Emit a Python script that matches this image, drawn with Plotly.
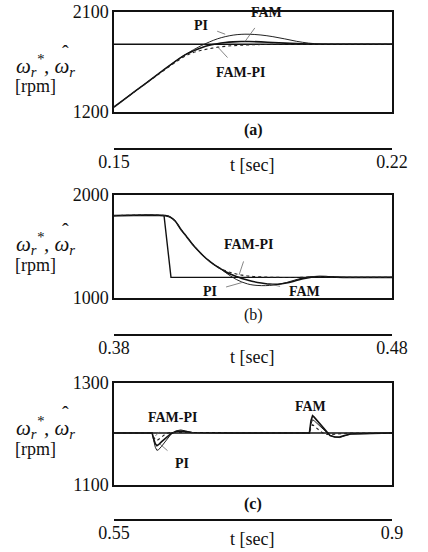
import plotly.graph_objects as go

# ---------------- data ----------------
# (a) speed step response
t_a = [0.150, 0.153, 0.156, 0.159, 0.162, 0.165, 0.168, 0.170, 0.172, 0.174, 0.176,
       0.178, 0.180, 0.182, 0.184, 0.187, 0.190, 0.193, 0.196, 0.199, 0.202, 0.206,
       0.210, 0.215, 0.220]
ref_a_t = [0.150, 0.220]
ref_a = [1810, 1810]
pi_a = [1245, 1325, 1405, 1485, 1565, 1645, 1718, 1760, 1798, 1830, 1858,
        1878, 1892, 1899, 1900, 1893, 1878, 1858, 1836, 1820, 1812, 1810,
        1810, 1810, 1810]
fam_a = [1245, 1325, 1405, 1485, 1565, 1645, 1716, 1750, 1778, 1800, 1815,
         1825, 1831, 1834, 1834, 1831, 1826, 1820, 1815, 1812, 1810, 1810,
         1810, 1810, 1810]
fampi_a = [1245, 1325, 1404, 1482, 1560, 1636, 1705, 1735, 1755, 1770, 1782,
           1791, 1797, 1801, 1804, 1807, 1809, 1810, 1810, 1810, 1810, 1810,
           1810, 1810, 1810]

# (b) speed reversal 1800 -> 1200 rpm
t_b = [0.380, 0.3985, 0.400, 0.402, 0.404, 0.406, 0.408, 0.410, 0.412, 0.414, 0.416,
       0.418, 0.420, 0.422, 0.424, 0.426, 0.428, 0.430, 0.433, 0.436, 0.439, 0.442,
       0.445, 0.448, 0.451, 0.454, 0.457, 0.460, 0.465, 0.470, 0.480]
ref_b_t = [0.380, 0.398, 0.4005, 0.480]
ref_b = [1800, 1800, 1200, 1200]
pi_b = [1800, 1800, 1788, 1748, 1668, 1600, 1530, 1468, 1413, 1365, 1324,
        1290, 1250, 1212, 1180, 1155, 1137, 1126, 1120, 1122, 1132, 1150,
        1174, 1195, 1207, 1211, 1208, 1203, 1200, 1200, 1200]
fam_b = [1800, 1800, 1788, 1748, 1668, 1600, 1530, 1468, 1413, 1365, 1324,
         1290, 1258, 1230, 1208, 1190, 1174, 1160, 1145, 1135, 1134, 1145,
         1165, 1188, 1203, 1209, 1207, 1203, 1200, 1200, 1200]
fampi_b = [1800, 1800, 1788, 1748, 1668, 1600, 1530, 1468, 1413, 1365, 1324,
           1292, 1266, 1247, 1233, 1222, 1214, 1209, 1205, 1202, 1200, 1199,
           1199, 1201, 1205, 1208, 1206, 1202, 1200, 1200, 1200]

# (c) load torque applied and removed
t_c = [0.550, 0.598, 0.600, 0.602, 0.604, 0.606, 0.610, 0.614, 0.618, 0.622, 0.628,
       0.634, 0.640, 0.648, 0.700, 0.750, 0.796, 0.798, 0.800, 0.802, 0.806, 0.810,
       0.814, 0.818, 0.822, 0.828, 0.834, 0.840, 0.848, 0.900]
ref_c_t = [0.550, 0.900]
ref_c = [1202, 1202]
pi_c = [1202, 1202, 1187, 1174, 1168, 1169, 1176, 1184, 1192, 1200, 1206,
        1208, 1206, 1203, 1202, 1202, 1202, 1220, 1228, 1226, 1220, 1214,
        1208, 1202, 1197, 1194, 1193, 1196, 1200, 1202]
fam_c = [1202, 1202, 1190, 1181, 1177, 1179, 1185, 1191, 1196, 1201, 1205,
         1206, 1205, 1203, 1202, 1202, 1202, 1226, 1236, 1233, 1226, 1218,
         1210, 1203, 1197, 1194, 1194, 1197, 1200, 1202]
fampi_c = [1202, 1202, 1194, 1189, 1187, 1189, 1194, 1199, 1202, 1203, 1203,
           1202, 1202, 1202, 1202, 1202, 1202, 1212, 1218, 1216, 1210, 1205,
           1201, 1199, 1199, 1200, 1201, 1202, 1202, 1202]

# axis ranges and tick labels
x_ranges = [[0.15, 0.22], [0.38, 0.48], [0.55, 0.90]]
x_ticktext = [["0.15", "0.22"], ["0.38", "0.48"], ["0.55", "0.9"]]
y_ranges = [[1200, 2100], [1000, 2000], [1100, 1300]]
panel_tags = ["<b>(a)</b>", "(b)", "<b>(c)</b>"]

# ---------------- figure ----------------
W, H = 428, 552
FONT = "Liberation Serif"
BLACK = "#111111"


def px_x(p):
    return p / W


def px_y(p):
    return 1 - p / H


box_left, box_right = 114, 392
panels = [
    dict(top=12, bottom=112, bracket=149, label_y=165, tag_y=130, om_y=66, rpm_y=86),
    dict(top=195, bottom=298, bracket=335, label_y=357, tag_y=315, om_y=244, rpm_y=265),
    dict(top=383, bottom=485, bracket=520, label_y=539, tag_y=504, om_y=427, rpm_y=449),
]

series = [
    (t_a, ref_a_t, ref_a, pi_a, fam_a, fampi_a, "spline"),
    (t_b, ref_b_t, ref_b, pi_b, fam_b, fampi_b, "spline"),
    (t_c, ref_c_t, ref_c, pi_c, fam_c, fampi_c, "linear"),
]

fig = go.Figure()
layout = dict(
    template="none",
    width=W, height=H,
    margin=dict(l=0, r=0, t=0, b=0, pad=0),
    paper_bgcolor="white", plot_bgcolor="white",
    showlegend=False,
    font=dict(family=FONT, size=18, color=BLACK),
)
annotations = []


def text_at(text, x, y, size, **kw):
    return dict(xref="paper", yref="paper", x=px_x(x), y=px_y(y), text=text,
                showarrow=False, xanchor="center", yanchor="middle",
                font=dict(family=FONT, size=size, color=BLACK), **kw)


for i, (p, s) in enumerate(zip(panels, series)):
    t, rt, rv, pi, fam, fampi, shape = s
    xb = f"x{2 * i + 1}" if i else "x"
    xk = f"x{2 * i + 2}"
    yk = f"y{i + 1}" if i else "y"
    xb_name = "xaxis" if i == 0 else f"xaxis{2 * i + 1}"
    xk_name = f"xaxis{2 * i + 2}"
    y_name = "yaxis" if i == 0 else f"yaxis{i + 1}"

    common = dict(xaxis=xb, yaxis=yk, mode="lines", hoverinfo="skip")
    fig.add_trace(go.Scatter(x=rt, y=rv, line=dict(color=BLACK, width=1.4), **common))
    fig.add_trace(go.Scatter(x=t, y=pi, line=dict(color="#222", width=1.0, shape=shape), **common))
    fig.add_trace(go.Scatter(x=t, y=fam, line=dict(color=BLACK, width=1.6, shape=shape), **common))
    fig.add_trace(go.Scatter(x=t, y=fampi, line=dict(color="#222", width=1.1, dash="dot", shape=shape), **common))
    # empty trace so the time bracket axis is drawn
    fig.add_trace(go.Scatter(x=[None], y=[None], xaxis=xk, yaxis=yk, mode="lines", hoverinfo="skip"))

    layout[xb_name] = dict(
        domain=[px_x(box_left), px_x(box_right)], range=x_ranges[i], anchor=yk,
        showline=True, mirror=True, linecolor=BLACK, linewidth=1.5,
        ticks="", showticklabels=False, showgrid=False, zeroline=False,
        automargin=False,
    )
    layout[y_name] = dict(
        domain=[px_y(p["bottom"]), px_y(p["top"])], range=y_ranges[i], anchor=xb,
        showline=True, mirror=True, linecolor=BLACK, linewidth=1.5,
        tickvals=y_ranges[i], ticktext=[str(v) for v in y_ranges[i]],
        ticks="", showgrid=False, zeroline=False, automargin=False,
        tickfont=dict(family=FONT, size=18, color=BLACK),
    )
    layout[xk_name] = dict(
        overlaying=xb, anchor="free", position=px_y(p["bracket"]),
        range=x_ranges[i], tickvals=x_ranges[i], ticktext=x_ticktext[i],
        ticks="inside", ticklen=4, tickwidth=1.5, tickcolor=BLACK,
        showline=True, linecolor=BLACK, linewidth=1.5, ticklabelstandoff=-3,
        showgrid=False, zeroline=False, side="bottom", automargin=False,
        tickfont=dict(family=FONT, size=18, color=BLACK),
    )

    annotations += [
        text_at("t [sec]", 252, p["label_y"], 18),
        text_at(panel_tags[i], 253, p["tag_y"], 16),
        text_at("<i>ω<sub>r</sub><sup>*</sup>, ω<sub>r</sub></i>", 45, p["om_y"], 21),
        text_at("\u02c6", 65, p["om_y"] - 13, 20),
        text_at("[rpm]", 35, p["rpm_y"], 18),
    ]


def tag(text, xref, yref, x, y, ax, ay):
    """Curve label with a thin pointer line (ax, ay in pixels from the label)."""
    return dict(xref=xref, yref=yref, x=x, y=y, ax=ax, ay=ay,
                text=f"<b>{text}</b>", showarrow=True, arrowhead=0, arrowwidth=0.8,
                arrowcolor="#666", standoff=0, startstandoff=8,
                font=dict(family=FONT, size=14, color=BLACK))


annotations += [
    tag("PI", "x", "y", 0.1780, 1900, -24, -9),
    tag("FAM", "x", "y", 0.1830, 1835, 21, -29),
    tag("FAM-PI", "x", "y", 0.1760, 1790, 24, 26),
    tag("FAM-PI", "x3", "y2", 0.4250, 1225, 10, -30),
    tag("PI", "x3", "y2", 0.4260, 1150, -32, 9),
    tag("FAM", "x3", "y2", 0.4350, 1140, 38, 8),
    tag("FAM-PI", "x5", "y3", 0.6020, 1196, 18, -19),
    tag("PI", "x5", "y3", 0.6080, 1180, 22, 19),
    tag("FAM", "x5", "y3", 0.8050, 1222, -6, -16),
]
layout["annotations"] = annotations
fig.update_layout(**layout)

fig.write_html("out.html")
